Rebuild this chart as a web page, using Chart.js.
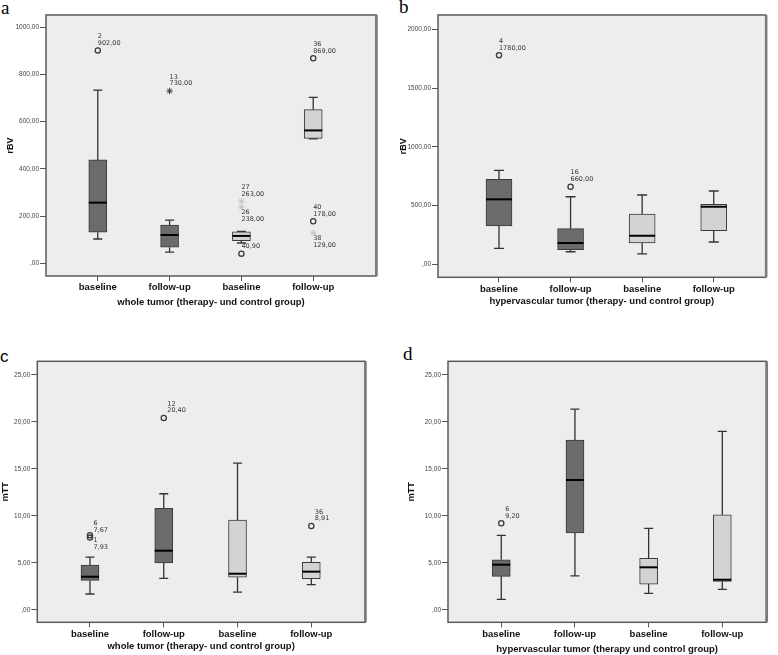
<!DOCTYPE html>
<html>
<head>
<meta charset="utf-8">
<script src="https://cdn.jsdelivr.net/npm/chart.js@4.4.0/dist/chart.umd.min.js"></script>
<style>
  body { margin: 0; background: #fff; width: 778px; height: 655px; position: relative; overflow: hidden; }
  canvas { position: absolute; }
  .letter { position: absolute; font-family: "Liberation Serif", serif; font-size: 19px; line-height: 1; color: #000; }
</style>
</head>
<body>
<div class="letter" style="left:1px;top:-2px">a</div>
<div class="letter" style="left:399px;top:-3px">b</div>
<div class="letter" style="left:0px;top:348px;font-family:'Liberation Sans',sans-serif;font-size:17px">c</div>
<div class="letter" style="left:403px;top:344px">d</div>
<canvas id="chartA" width="389" height="318" style="left:0;top:0"></canvas>
<canvas id="chartB" width="389" height="318" style="left:389px;top:0"></canvas>
<canvas id="chartC" width="389" height="337" style="left:0;top:318px"></canvas>
<canvas id="chartD" width="389" height="337" style="left:389px;top:318px"></canvas>
<script>
const cats = ["baseline", "follow-up", "baseline", "follow-up"];

// a: rBV, whole tumor
const aMin = [103, 47, 86, 527];
const aQ1  = [132, 68, 96, 529];
const aMed = [257, 120, 116, 563];
const aQ3  = [438, 162, 133, 651];
const aMax = [734, 183, 135, 703];
const aOutCat = [1, 2, 3, 3, 3, 4, 4, 4];
const aOutVal = [902, 730, 263, 238, 40.9, 869, 178, 129];
const aOutId  = ["2", "13", "27", "26", "41", "36", "40", "38"];
const aOutType = ["o", "*", "+", "+", "o", "o", "o", "+"];
const aOutSide = ["up", "up", "up", "down", "up", "up", "up", "down"];
const aTicks = [0, 200, 400, 600, 800, 1000];

// b: rBV, hypervascular tumor
const bMin = [136, 107, 88, 190];
const bQ1  = [326, 124, 181, 286];
const bMed = [553, 181, 243, 490];
const bQ3  = [723, 303, 428, 511];
const bMax = [800, 575, 590, 624];
const bOutCat = [1, 2];
const bOutVal = [1780, 660];
const bOutId  = ["4", "16"];
const bOutType = ["o", "o"];
const bOutSide = ["up", "up"];
const bTicks = [0, 500, 1000, 1500, 2000];

// c: mTT, whole tumor
const cMin = [1.67, 3.34, 1.88, 2.66];
const cQ1  = [3.12, 4.97, 3.45, 3.30];
const cMed = [3.51, 6.28, 3.83, 4.05];
const cQ3  = [4.76, 10.79, 9.54, 5.04];
const cMax = [5.6, 12.34, 15.6, 5.6];
const cOutCat = [1, 1, 2, 4];
const cOutVal = [7.67, 7.93, 20.40, 8.91];
const cOutId  = ["6", "1", "12", "36"];
const cOutType = ["o", "o", "o", "o"];
const cOutSide = ["up", "down", "up", "up"];
const cTicks = [0, 5, 10, 15, 20, 25];

// d: mTT, hypervascular tumor
const dMin = [1.1, 3.59, 1.74, 2.17];
const dQ1  = [3.55, 8.16, 2.73, 3.02];
const dMed = [4.79, 13.8, 4.51, 3.19];
const dQ3  = [5.32, 18.05, 5.47, 10.1];
const dMax = [7.91, 21.35, 8.66, 18.98];
const dOutCat = [1];
const dOutVal = [9.20];
const dOutId  = ["6"];
const dOutType = ["o"];
const dOutSide = ["up"];
const dTicks = [0, 5, 10, 15, 20, 25];

const boxColors = ["#6b6b6b", "#6b6b6b", "#d3d3d3", "#d3d3d3"];
const fmt = v => v === 0 ? ",00" : v.toFixed(2).replace(".", ",");

function boxPlot(canvasId, d, look) {
  const parts = {
    id: "boxParts",
    beforeDraw(chart) {
      const a = chart.chartArea, ctx = chart.ctx;
      ctx.save();
      ctx.fillStyle = "#ededed";
      ctx.fillRect(a.left, a.top, a.right - a.left, a.bottom - a.top);
      ctx.restore();
    },
    beforeDatasetsDraw(chart) {
      const ctx = chart.ctx, x = chart.scales.x, y = chart.scales.y;
      ctx.save();
      // outlier labels
      ctx.font = "6.5px 'DejaVu Sans'";
      ctx.fillStyle = "#333";
      ctx.textBaseline = "middle";
      d.outVal.forEach((v, i) => {
        const px = x.getPixelForValue(d.outCat[i]) + look.labelDx;
        const py = y.getPixelForValue(v);
        const o1 = d.outSide[i] === "up" ? -14 : 5.5;
        ctx.fillText(d.outId[i], px, py + o1);
        ctx.fillText(fmt(v), px, py + o1 + 6.8);
      });
      // whiskers
      ctx.strokeStyle = "#333";
      ctx.lineWidth = 1.3;
      cats.forEach((c, i) => {
        const px = x.getPixelForValue(i + 1);
        const hw = look.capW / 2;
        [[d.min[i], d.q1[i]], [d.max[i], d.q3[i]]].forEach(([end, edge]) => {
          const pe = y.getPixelForValue(end), pb = y.getPixelForValue(edge);
          ctx.beginPath();
          ctx.moveTo(px, pe); ctx.lineTo(px, pb);
          ctx.moveTo(px - hw, pe); ctx.lineTo(px + hw, pe);
          ctx.stroke();
        });
      });
      ctx.restore();
    },
    afterDatasetsDraw(chart) {
      const ctx = chart.ctx, x = chart.scales.x, y = chart.scales.y, a = chart.chartArea;
      ctx.save();
      ctx.strokeStyle = "#000";
      ctx.lineWidth = 2;
      cats.forEach((c, i) => {
        const px = x.getPixelForValue(i + 1), py = y.getPixelForValue(d.med[i]);
        ctx.beginPath();
        ctx.moveTo(px - look.boxW / 2, py); ctx.lineTo(px + look.boxW / 2, py);
        ctx.stroke();
      });
      ctx.strokeStyle = "#5a5a5a";
      ctx.lineWidth = 1.5;
      ctx.strokeRect(a.left, a.top, a.right - a.left, a.bottom - a.top);
      ctx.lineWidth = 2.5;
      ctx.strokeStyle = "#7a7a7a";
      ctx.beginPath();
      ctx.moveTo(a.right + 0.5, a.top); ctx.lineTo(a.right + 0.5, a.bottom);
      ctx.stroke();
      ctx.restore();
    }
  };

  const markColor = t => t === "+" ? "#c4c4c4" : "#3a3a3a";

  new Chart(document.getElementById(canvasId), {
    type: "bar",
    data: {
      datasets: [{
        type: "bar",
        data: cats.map((c, i) => ({ x: i + 1, y: [d.q1[i], d.q3[i]] })),
        backgroundColor: boxColors,
        borderColor: "#3a3a3a",
        borderWidth: 1,
        borderSkipped: false,
        barThickness: look.boxW
      }, {
        type: "scatter",
        data: d.outVal.map((v, i) => ({ x: d.outCat[i], y: v })),
        pointStyle: d.outType.map(t => t === "o" ? "circle" : "star"),
        pointRadius: d.outType.map(t => t === "o" ? 2.6 : 3.2),
        pointBorderWidth: d.outType.map(t => t === "o" ? 1.3 : 1),
        pointBorderColor: d.outType.map(markColor),
        pointBackgroundColor: "rgba(0,0,0,0)"
      }]
    },
    options: {
      responsive: false,
      animation: false,
      events: [],
      layout: { padding: { left: 0, right: look.padR, top: look.padT, bottom: 0 } },
      plugins: { legend: { display: false }, tooltip: { enabled: false } },
      scales: {
        x: {
          type: "linear",
          offset: false,
          min: look.xMin, max: look.xMax,
          afterBuildTicks: s => { s.ticks = cats.map((c, i) => ({ value: i + 1 })); },
          afterFit: s => { s.height = look.xH; },
          grid: { offset: false, drawOnChartArea: false, tickLength: 5, color: "#555" },
          border: { display: false },
          ticks: {
            callback: v => cats[v - 1],
            padding: 1,
            maxRotation: 0,
            autoSkip: false,
            color: "#111",
            font: { family: "'Liberation Sans'", size: 9.5, weight: "bold" }
          },
          title: {
            display: true, text: look.xTitle, color: "#111",
            padding: { top: 0, bottom: look.xTitlePad },
            font: { family: "'Liberation Sans'", size: 9.5, weight: "bold" }
          }
        },
        y: {
          min: look.yMin, max: look.yMax,
          afterBuildTicks: s => { s.ticks = d.ticks.map(v => ({ value: v })); },
          afterFit: s => { s.width = look.yW; },
          grid: { drawOnChartArea: false, tickLength: 6, color: "#555" },
          border: { display: false },
          ticks: {
            callback: v => fmt(v),
            padding: 1,
            color: "#444",
            font: { family: "'Liberation Sans'", size: 6.5 }
          },
          title: {
            display: true, text: look.yTitle, color: "#111",
            padding: { top: look.yTitlePad, bottom: 0 },
            font: { family: "'Liberation Sans'", size: 9, weight: "bold" }
          }
        }
      }
    },
    plugins: [parts]
  });
}

boxPlot("chartA",
  { min: aMin, q1: aQ1, med: aMed, q3: aQ3, max: aMax, outCat: aOutCat, outVal: aOutVal, outId: aOutId, outType: aOutType, outSide: aOutSide, ticks: aTicks },
  { xMin: 0.279, xMax: 4.874, yMin: -53.8, yMax: 1052, yW: 46, xH: 42, padR: 13, padT: 15,
    boxW: 18, capW: 9, labelDx: 0, xTitlePad: 9.7, yTitlePad: 5.6,
    xTitle: "whole tumor (therapy- und control group)", yTitle: "rBV" });

boxPlot("chartB",
  { min: bMin, q1: bQ1, med: bMed, q3: bQ3, max: bMax, outCat: bOutCat, outVal: bOutVal, outId: bOutId, outType: bOutType, outSide: bOutSide, ticks: bTicks },
  { xMin: 0.148, xMax: 4.726, yMin: -110.6, yMax: 2121.7, yW: 49, xH: 40.7, padR: 12.3, padT: 15,
    boxW: 26, capW: 10, labelDx: 0, xTitlePad: 10.7, yTitlePad: 9.6,
    xTitle: "hypervascular tumor (therapy- und control group)", yTitle: "rBV" });

boxPlot("chartC",
  { min: cMin, q1: cQ1, med: cMed, q3: cQ3, max: cMax, outCat: cOutCat, outVal: cOutVal, outId: cOutId, outType: cOutType, outSide: cOutSide, ticks: cTicks },
  { xMin: 0.286, xMax: 4.728, yMin: -1.34, yMax: 26.43, yW: 37.3, xH: 32.7, padR: 24, padT: 43.3,
    boxW: 18, capW: 9, labelDx: 3.5, xTitlePad: 3, yTitlePad: 0,
    xTitle: "whole tumor (therapy- und control group)", yTitle: "mTT" });

boxPlot("chartD",
  { min: dMin, q1: dQ1, med: dMed, q3: dQ3, max: dMax, outCat: dOutCat, outVal: dOutVal, outId: dOutId, outType: dOutType, outSide: dOutSide, ticks: dTicks },
  { xMin: 0.277, xMax: 4.597, yMin: -1.34, yMax: 26.43, yW: 59, xH: 32.7, padR: 11.7, padT: 43.3,
    boxW: 18, capW: 9, labelDx: 4, xTitlePad: 0.3, yTitlePad: 17.6,
    xTitle: "hypervascular tumor (therapy und control group)", yTitle: "mTT" });
</script>
</body>
</html>
